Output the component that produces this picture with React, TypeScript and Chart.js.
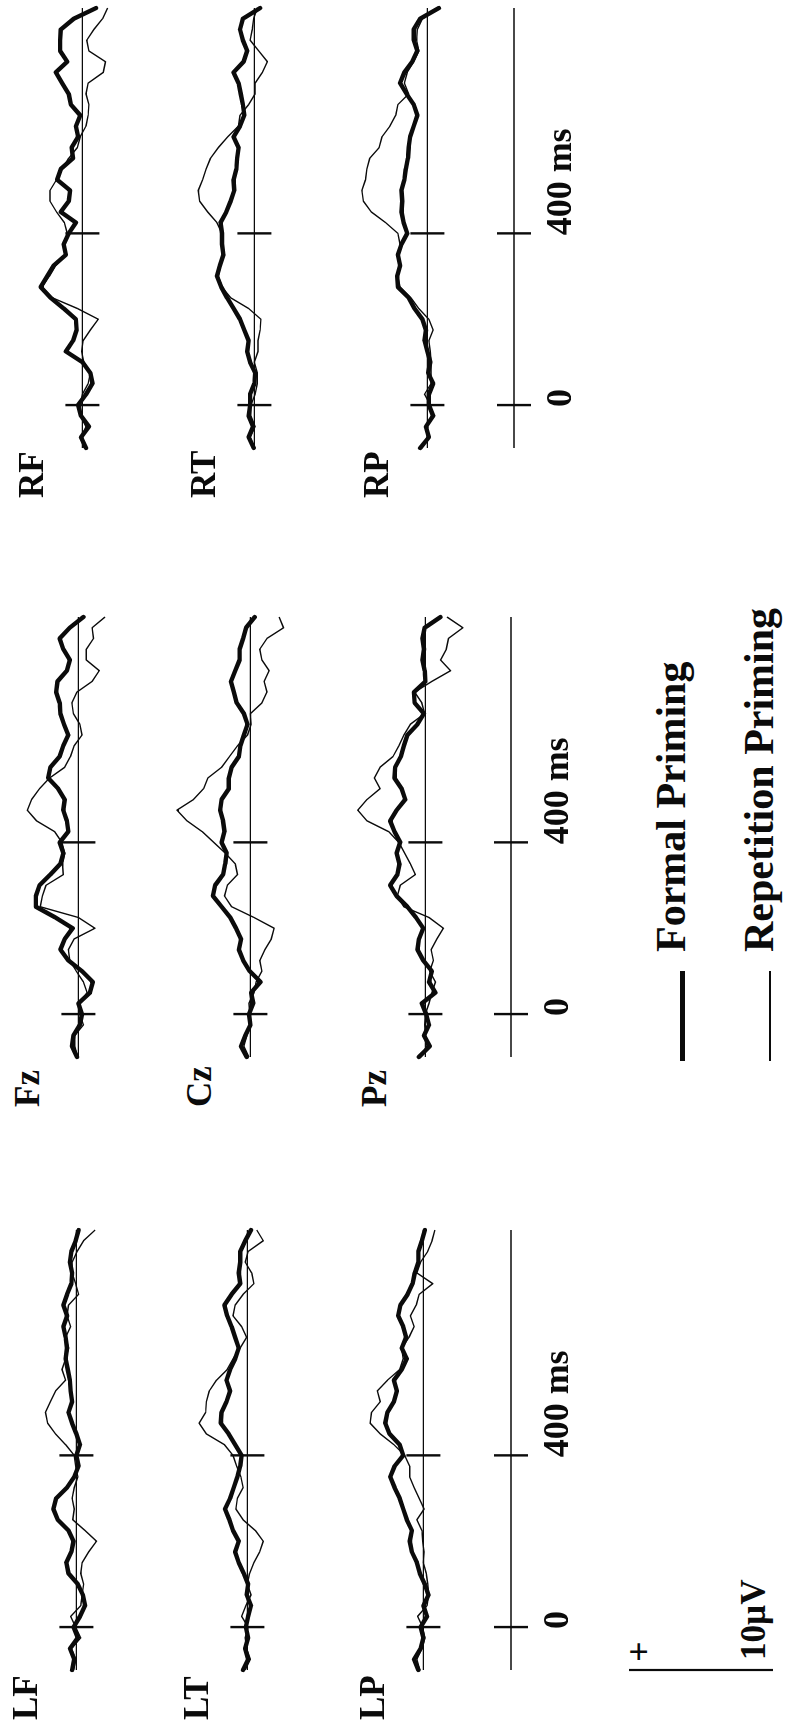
import React, { useEffect, useRef } from 'react';
import { Chart, registerables } from 'chart.js';

Chart.register(...registerables);

// ---------------- data ----------------
const TIMES_MS = [-100, -75, -50, -25, 0, 25, 50, 75, 100, 125, 150, 175, 200, 225, 250, 275, 300, 325, 350, 375, 400, 425, 450, 475, 500, 525, 550, 575, 600, 625, 650, 675, 700, 725, 750, 775, 800, 825, 850, 875, 900, 925];

const LF_FORMAL = [0.3, 0.15, 0.45, -0.1, 0.2, -0.25, -0.6, -0.45, -0.1, 0.55, 0.7, 0.35, 0.2, 0.55, 1.3, 1.6, 1.4, 0.65, 0.15, -0.15, 0, -0.25, 0, 0.3, 0.55, 0.3, 0.4, 0.45, 0.6, 0.75, 0.65, 0.75, 0.9, 0.65, 0.9, 0.65, 0.35, 0.3, 0.45, 0.35, 0.05, -0.15];
const LF_REPETITION = [0.2, 0.05, 0.35, -0.3, 0.05, 0.4, -0.3, -0.4, -0.5, -0.3, -0.4, -0.85, -1.4, -0.6, 0.25, 0.15, 0.3, 0.15, -0.1, 0.05, 0.15, 0.75, 1.45, 2.0, 2.15, 1.8, 1.45, 0.75, 1.0, 0.75, 0.55, 0.75, 0.4, 0.65, 0.55, -0.15, 0.05, 0.3, 0.3, -0.05, -0.5, -1.3];
const LT_FORMAL = [0.3, -0.05, 0.15, -0.05, 0.1, -0.05, -0.25, 0.05, -0.05, 0.25, 0.6, 0.85, 0.6, 1.0, 1.25, 1.55, 1.2, 0.95, 0.7, 0.5, 0.4, 0.85, 1.3, 1.85, 1.8, 1.45, 1.2, 1.45, 1.2, 0.85, 0.6, 0.85, 1.1, 1.4, 1.6, 1.1, 0.5, 0.6, 0.5, 0.5, 0.15, -0.25];
const LT_REPETITION = [0.15, -0.2, 0.05, 0.15, -0.05, 0.4, 0.1, -0.25, 0, -0.15, -0.45, -0.85, -1.1, -0.55, 0.3, 0.8, 0.7, 0.3, 0.45, 0.75, 1.0, 1.6, 2.85, 3.35, 2.9, 2.85, 2.65, 2.15, 1.4, 1.0, 0.5, 0.05, 0.4, 1.0, 0.85, 0.3, -0.45, -0.3, 0.15, -0.05, -1.1, -0.65];
const LP_FORMAL = [0.35, 0.65, 0.2, 0, 0.2, -0.25, 0, -0.35, -0.1, 0.25, 0.45, 0.8, 0.95, 0.8, 1.15, 1.4, 1.65, 2.0, 2.3, 2.0, 1.4, 1.65, 2.35, 2.65, 2.5, 2.05, 1.85, 2.05, 1.5, 1.15, 1.5, 1.2, 1.4, 1.75, 1.6, 1.1, 0.75, 0.6, 0.35, 0.35, 0.1, -0.1];
const LP_REPETITION = [0.25, 0.45, 0.1, -0.1, 0.05, 0.4, -0.25, -0.35, -0.3, -0.2, 0, -0.05, 0.05, 0.1, 0.45, -0.05, 0.3, 0.65, 0.95, 0.95, 1.3, 2.05, 3.0, 3.7, 3.6, 3.0, 3.2, 2.5, 1.65, 1.4, 1.5, 1.0, 0.65, 0.9, 0.5, 0.3, -0.65, 0.45, 0.2, -0.3, -0.6, -0.8];

const FZ_FORMAL = [0.1, 0.45, 0.35, -0.1, -0.25, 0, -0.8, -1.0, -0.25, 0.7, 1.25, 0.95, 0.4, 1.6, 2.95, 2.95, 2.7, 1.95, 1.25, 1.05, 1.3, 0.7, 0.8, 1.05, 0.95, 1.4, 2.1, 1.95, 1.3, 1.05, 0.7, 1.0, 1.25, 1.3, 1.55, 1.45, 0.8, 0.6, 1.05, 1.3, 0.6, -0.35];
const FZ_REPETITION = [0.05, 0.25, 0.25, -0.35, -0.1, -0.1, -0.6, -0.35, 0.15, 0.6, 0.7, 0.3, -1.15, 0, 2.65, 2.5, 2.25, 1.05, 1.1, 0.95, 1.15, 1.65, 2.9, 3.55, 3.25, 2.7, 2.0, 0.95, 0.55, 0.3, -0.25, -0.1, 0.35, 0.45, 0.1, -0.95, -1.45, -0.55, -0.55, -1.05, -0.95, -1.85];
const CZ_FORMAL = [0.25, 0.65, 0.35, 0, 0.1, -0.2, -0.05, -0.7, 0.05, 0.5, 0.8, 0.65, 1.0, 1.4, 2.0, 2.6, 2.45, 1.9, 1.75, 1.65, 2.0, 1.8, 1.9, 2.1, 2.0, 1.5, 1.5, 1.3, 0.8, 0.7, 0.45, 0.2, 0.45, 0.95, 1.15, 1.35, 1.05, 0.75, 0.75, 0.5, 0.3, -0.3];
const CZ_REPETITION = [0.1, 0.45, 0.25, -0.05, 0.05, 0.1, -0.25, -0.4, -0.8, -0.65, -1.0, -1.45, -1.65, -0.25, 1.3, 1.8, 1.6, 0.9, 1.05, 1.75, 2.55, 3.35, 4.4, 5.1, 3.95, 3.25, 2.95, 2.0, 1.45, 0.9, 0.2, -0.05, 0, -0.8, -1.15, -0.95, -1.3, -0.8, -0.65, -1.15, -2.3, -2.0];
const PZ_FORMAL = [0.45, -0.3, 0.1, -0.25, -0.05, 0.25, -0.7, -0.25, -0.45, 0.15, 0.55, 0.45, 0.15, 0.65, 1.25, 2.0, 2.45, 1.95, 1.8, 2.0, 1.75, 2.15, 2.45, 2.0, 1.4, 1.65, 2.15, 2.1, 1.7, 1.5, 1.25, 0.55, 0.1, 0.75, 0.8, 0, 0.05, 0.2, 0.1, 0.2, 0.05, -1.05];
const PZ_REPETITION = [0.35, -0.1, 0, 0.05, 0, -0.25, -0.45, -0.7, -0.3, -0.55, -0.4, -0.8, -1.25, -0.25, 1.5, 1.95, 1.75, 0.7, 1.05, 1.45, 1.85, 2.55, 4.05, 4.7, 4.05, 3.15, 3.55, 3.15, 2.25, 1.85, 1.5, 1.05, 0.05, 0.25, 0.75, -0.45, -1.75, -1.05, -1.45, -1.6, -2.6, -1.5];

const RF_FORMAL = [-0.25, 0.1, -0.45, 0.1, 0.3, -0.25, -0.7, -0.55, 0, 1.15, 0.65, 0.4, 0.45, 1.3, 2.2, 2.9, 2.45, 2.0, 1.15, 1.3, 0.95, 0.45, 1.5, 0.95, 0.85, 1.75, 1.5, 0.65, 0.75, 0.3, 0.45, 0.15, 0.8, 0.95, 1.4, 1.85, 1.05, 1.55, 1.55, 1.5, 0.6, -0.95];
const RF_REPETITION = [-0.1, 0, -0.25, 0.1, 0.15, 0, -0.4, -0.55, -0.1, 0.05, -0.05, -0.55, -1.1, 0.35, 2.1, 2.8, 2.3, 1.85, 1.15, 1.25, 1.05, 1.25, 1.8, 2.25, 2.25, 1.8, 1.4, 0.95, 0.35, 0.15, -0.25, -0.4, -0.45, -0.25, -0.4, -1.45, -1.6, -0.45, -0.3, -0.8, -1.4, -1.75];
const RT_FORMAL = [0.05, 0.4, 0.1, 0.4, 0.3, 0.3, 0, -0.05, 0.3, 0.5, 0.4, 0.7, 1.0, 1.45, 1.9, 2.3, 2.6, 2.4, 2.15, 2.25, 2.25, 2.35, 1.95, 1.65, 1.4, 1.45, 1.25, 1.2, 1.1, 1.45, 1.0, 0.7, 0.8, 0.95, 1.1, 1.45, 0.75, 0.5, 0.8, 1.0, 0.8, -0.4];
const RT_REPETITION = [0, 0.3, -0.05, 0.25, 0.25, -0.05, -0.2, -0.2, 0, -0.25, -0.25, -0.4, -0.45, 0.4, 1.65, 2.25, 2.5, 2.35, 2.1, 2.2, 2.25, 2.6, 3.25, 3.8, 3.9, 3.6, 3.35, 3.05, 2.5, 1.85, 1.1, 1.0, 0.4, -0.05, -0.05, -0.55, -0.9, -0.3, 0.3, 0.15, 0.05, -0.2];
const RP_FORMAL = [0.5, -0.1, 0.1, -0.4, -0.1, -0.1, -0.4, -0.05, -0.2, 0, 0.2, 0.1, 0.35, 0.9, 1.3, 2.05, 2.1, 1.9, 2.05, 1.8, 1.4, 1.65, 1.8, 1.75, 1.8, 1.6, 1.5, 1.35, 1.3, 1.2, 0.95, 0.7, 0.95, 1.45, 1.9, 1.6, 1.05, 0.7, 0.95, 0.95, 0.5, -0.8];
const RP_REPETITION = [0.4, 0, 0.05, -0.3, -0.2, 0.2, -0.25, -0.25, -0.25, -0.2, -0.1, -0.4, -0.1, 0.6, 1.15, 1.9, 2.05, 1.9, 2.0, 1.9, 2.05, 2.9, 3.9, 4.45, 4.55, 4.3, 4.2, 4.0, 3.35, 3.15, 2.6, 2.2, 2.05, 1.3, 1.6, 1.4, 0.95, 0.6, 0.75, 0.7, 0.35, -0.7];

const CHANNELS = [
  ['LF', 'LT', 'LP'],
  ['Fz', 'Cz', 'Pz'],
  ['RF', 'RT', 'RP'],
];
const SERIES_LABELS = ['Formal Priming', 'Repetition Priming'];
const TIME_TICKS = [0, 400];
const TIME_TICK_LABELS = ['0', '400 ms'];
const SCALE_BAR_UV = [0, 10];
const SCALE_BAR_LABEL = '10µV';
const SCALE_BAR_SIGN = '+';

const SERIES: Record<string, number[][]> = {
  LF: [LF_FORMAL, LF_REPETITION],
  LT: [LT_FORMAL, LT_REPETITION],
  LP: [LP_FORMAL, LP_REPETITION],
  Fz: [FZ_FORMAL, FZ_REPETITION],
  Cz: [CZ_FORMAL, CZ_REPETITION],
  Pz: [PZ_FORMAL, PZ_REPETITION],
  RF: [RF_FORMAL, RF_REPETITION],
  RT: [RT_FORMAL, RT_REPETITION],
  RP: [RP_FORMAL, RP_REPETITION],
};

// ---------------- layout (landscape stage, rotated -90deg onto the page) ----------------
const STAGE_W = 1728;
const STAGE_H = 789;
const T_MIN = -100;
const T_MAX = 925;
const PX_PER_MS = 0.4293;
const PX_PER_UV = 14.4;
const V_MIN = -4;
const V_MAX = 6;
const PAD_X = 6;
const PAD_Y = 4;
const PLOT_W = Math.round((T_MAX - T_MIN) * PX_PER_MS);
const PANEL_W = PLOT_W + 2 * PAD_X;
const PANEL_H = Math.round((V_MAX - V_MIN) * PX_PER_UV) + 2 * PAD_Y;
const TICK_HALF = 17;

const COL_LEFT = [58, 671, 1280];
const ROW_BASE = [
  [76, 247, 423],
  [78, 250, 425],
  [82, 254, 427],
];
const AXIS_Y = [511, 511, 514];

const INK = '#0b0b0b';
const SERIF = '"Liberation Serif", "Times New Roman", serif';

const refLines = (opts: { labels?: boolean }) => ({
  id: 'refLines',
  beforeDatasetsDraw(chart: any) {
    const { ctx, scales } = chart;
    const x = scales.x;
    const y = scales.y;
    const yb = y.getPixelForValue(0);
    ctx.save();
    ctx.strokeStyle = INK;
    ctx.lineWidth = 1.3;
    ctx.beginPath();
    ctx.moveTo(x.getPixelForValue(T_MIN), yb);
    ctx.lineTo(x.getPixelForValue(T_MAX), yb);
    ctx.stroke();
    ctx.lineWidth = 2.4;
    for (const t of TIME_TICKS) {
      const px = x.getPixelForValue(t);
      ctx.beginPath();
      ctx.moveTo(px, yb - TICK_HALF);
      ctx.lineTo(px, yb + TICK_HALF);
      ctx.stroke();
    }
    if (opts.labels) {
      ctx.fillStyle = INK;
      ctx.font = `bold 36px ${SERIF}`;
      ctx.textAlign = 'left';
      ctx.textBaseline = 'alphabetic';
      TIME_TICKS.forEach((t, i) => {
        ctx.fillText(TIME_TICK_LABELS[i], x.getPixelForValue(t) - 2, yb + 57);
      });
    }
    ctx.restore();
  },
});

const baseOptions = (yMin: number, yMax: number, padding: any, xMin = T_MIN, xMax = T_MAX) => ({
  animation: false as const,
  responsive: false,
  events: [] as any[],
  layout: { padding },
  scales: {
    x: { type: 'linear' as const, min: xMin, max: xMax, display: false },
    y: { type: 'linear' as const, min: yMin, max: yMax, display: false },
  },
  plugins: { legend: { display: false }, tooltip: { enabled: false } },
});

function WavePanel({ formal, repetition, left, baseline }: { formal: number[]; repetition: number[]; left: number; baseline: number }) {
  const ref = useRef<HTMLCanvasElement>(null);
  useEffect(() => {
    const pts = (vals: number[]) => TIMES_MS.map((t, i) => ({ x: t, y: vals[i] }));
    const chart = new Chart(ref.current as HTMLCanvasElement, {
      type: 'scatter',
      data: {
        datasets: [
          {
            label: SERIES_LABELS[0],
            data: pts(formal),
            showLine: true,
            borderColor: INK,
            backgroundColor: INK,
            borderWidth: 4.4,
            pointRadius: 0,
            borderJoinStyle: 'round',
            borderCapStyle: 'round',
            clip: 8,
          },
          {
            label: SERIES_LABELS[1],
            data: pts(repetition),
            showLine: true,
            borderColor: INK,
            backgroundColor: INK,
            borderWidth: 1.4,
            pointRadius: 0,
            borderJoinStyle: 'round',
            clip: 8,
          },
        ],
      } as any,
      options: baseOptions(V_MIN, V_MAX, { left: PAD_X, right: PAD_X, top: PAD_Y, bottom: PAD_Y }) as any,
      plugins: [refLines({}) as any],
    });
    return () => chart.destroy();
  }, [formal, repetition]);
  const top = baseline - PAD_Y - V_MAX * PX_PER_UV;
  return (
    <canvas
      ref={ref}
      width={PANEL_W}
      height={PANEL_H}
      style={{ position: 'absolute', left: left - PAD_X, top, width: PANEL_W, height: PANEL_H }}
    />
  );
}

function TimeAxis({ left, axisY }: { left: number; axisY: number }) {
  const ref = useRef<HTMLCanvasElement>(null);
  const H = 130;
  useEffect(() => {
    const chart = new Chart(ref.current as HTMLCanvasElement, {
      type: 'scatter',
      data: { datasets: [] },
      options: baseOptions(-1, 1, { left: PAD_X, right: PAD_X, top: 0, bottom: 0 }) as any,
      plugins: [refLines({ labels: true }) as any],
    });
    return () => chart.destroy();
  }, []);
  return (
    <canvas
      ref={ref}
      width={PANEL_W}
      height={H}
      style={{ position: 'absolute', left: left - PAD_X, top: axisY - H / 2, width: PANEL_W, height: H }}
    />
  );
}

function ScaleBar({ x, top }: { x: number; top: number }) {
  const ref = useRef<HTMLCanvasElement>(null);
  const W = 12;
  const len = (SCALE_BAR_UV[1] - SCALE_BAR_UV[0]) * PX_PER_UV;
  const H = len + 2 * PAD_Y;
  useEffect(() => {
    const chart = new Chart(ref.current as HTMLCanvasElement, {
      type: 'scatter',
      data: {
        datasets: [
          {
            data: SCALE_BAR_UV.map((v) => ({ x: 0, y: v })),
            showLine: true,
            borderColor: INK,
            borderWidth: 2.2,
            pointRadius: 0,
            clip: 6,
          },
        ],
      } as any,
      options: baseOptions(SCALE_BAR_UV[0], SCALE_BAR_UV[1], { left: 0, right: 0, top: PAD_Y, bottom: PAD_Y }, -1, 1) as any,
    });
    return () => chart.destroy();
  }, []);
  return (
    <canvas
      ref={ref}
      width={W}
      height={H}
      style={{ position: 'absolute', left: x - W / 2, top: top - PAD_Y, width: W, height: H }}
    />
  );
}

function Text({ children, left, baseline, size }: { children: React.ReactNode; left: number; baseline: number; size: number }) {
  return (
    <span
      style={{
        position: 'absolute',
        left,
        top: baseline - 0.8375 * size,
        fontFamily: SERIF,
        fontWeight: 'bold',
        fontSize: size,
        lineHeight: 1,
        color: INK,
        whiteSpace: 'nowrap',
      }}
    >
      {children}
    </span>
  );
}

export default function App() {
  return (
    <div style={{ position: 'absolute', left: 0, top: 0, width: STAGE_H, height: STAGE_W, overflow: 'hidden', background: '#fff' }}>
      <div
        style={{
          position: 'absolute',
          left: 0,
          top: 0,
          width: STAGE_W,
          height: STAGE_H,
          transformOrigin: '0 0',
          transform: `translate(0px, ${STAGE_W}px) rotate(-90deg)`,
          background: '#fff',
        }}
      >
        {CHANNELS.map((col, ci) =>
          col.map((ch, ri) => (
            <React.Fragment key={ch}>
              <WavePanel formal={SERIES[ch][0]} repetition={SERIES[ch][1]} left={COL_LEFT[ci]} baseline={ROW_BASE[ci][ri]} />
              <Text left={COL_LEFT[ci] - 50} baseline={ROW_BASE[ci][ri] - 39} size={35}>
                {ch}
              </Text>
            </React.Fragment>
          ))
        )}
        {COL_LEFT.map((l, ci) => (
          <TimeAxis key={'ax' + ci} left={l} axisY={AXIS_Y[ci]} />
        ))}

        {/* voltage calibration */}
        <ScaleBar x={58} top={629} />
        <Text left={66} baseline={651} size={36}>
          {SCALE_BAR_SIGN}
        </Text>
        <Text left={68} baseline={765} size={35}>
          {SCALE_BAR_LABEL}
        </Text>

        {/* legend */}
        <div style={{ position: 'absolute', left: 667, top: 682 - 2.5, width: 90, height: 5, background: INK }} />
        <Text left={776} baseline={685} size={42}>
          {SERIES_LABELS[0]}
        </Text>
        <div style={{ position: 'absolute', left: 667, top: 770 - 0.75, width: 90, height: 1.5, background: INK }} />
        <Text left={776} baseline={773} size={42}>
          {SERIES_LABELS[1]}
        </Text>
      </div>
    </div>
  );
}
